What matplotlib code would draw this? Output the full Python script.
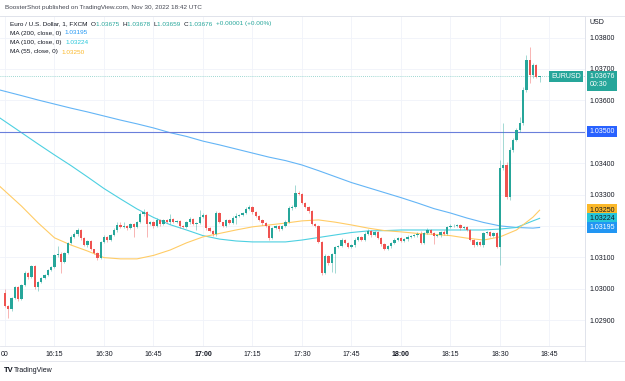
import numpy as np
import matplotlib
matplotlib.use("Agg")
import matplotlib.pyplot as plt
from matplotlib.lines import Line2D
from matplotlib.transforms import blended_transform_factory

plt.rcParams['font.family'] = ['Liberation Sans', 'DejaVu Sans']

# ---- data (1-minute EURUSD candles from 16:00, minute index 0..162) ----
first_open = 1.02986
closes = [
    1.02945, 1.02935, 1.02970, 1.03005, 1.02967, 1.03012, 1.03050, 1.03037, 1.03072, 1.03005,
    1.03021, 1.03034, 1.03044, 1.03060, 1.03069, 1.03107, 1.03110, 1.03085, 1.03114, 1.03146,
    1.03165, 1.03174, 1.03187, 1.03162, 1.03139, 1.03152, 1.03126, 1.03114, 1.03098, 1.03149,
    1.03165, 1.03155, 1.03171, 1.03187, 1.03203, 1.03197, 1.03200, 1.03193, 1.03206, 1.03197,
    1.03212, 1.03238, 1.03244, 1.03206, 1.03212, 1.03200, 1.03219, 1.03206, 1.03219, 1.03212,
    1.03222, 1.03212, 1.03216, 1.03200, 1.03197, 1.03212, 1.03222, 1.03206, 1.03209, 1.03228,
    1.03235, 1.03193, 1.03184, 1.03174, 1.03241, 1.03212, 1.03200, 1.03219, 1.03209, 1.03225,
    1.03232, 1.03235, 1.03241, 1.03254, 1.03260, 1.03244, 1.03232, 1.03219, 1.03209, 1.03200,
    1.03162, 1.03193, 1.03200, 1.03190, 1.03200, 1.03212, 1.03257, 1.03260, 1.03305, 1.03302,
    1.03273, 1.03260, 1.03247, 1.03206, 1.03200, 1.03149, 1.03050, 1.03104, 1.03082, 1.03110,
    1.03133, 1.03136, 1.03155, 1.03146, 1.03133, 1.03139, 1.03155, 1.03165, 1.03155, 1.03174,
    1.03184, 1.03171, 1.03181, 1.03162, 1.03142, 1.03126, 1.03136, 1.03146, 1.03155, 1.03162,
    1.03152, 1.03158, 1.03165, 1.03168, 1.03171, 1.03174, 1.03146, 1.03177, 1.03187, 1.03177,
    1.03168, 1.03171, 1.03181, 1.03174, 1.03197, 1.03200, 1.03201, 1.03203, 1.03193, 1.03197,
    1.03187, 1.03155, 1.03139, 1.03149, 1.03139, 1.03177, 1.03181, 1.03168, 1.03177, 1.03133,
    1.03384, 1.03394, 1.03292, 1.03442, 1.03474, 1.03505, 1.03528, 1.03633, 1.03728, 1.03681,
    1.03712, 1.03675, 1.03676,
]
# wick lengths beyond the body, in 0.00001 units
upper_wick = [
    13, 3, 4, 5, 3, 4, 6, 3, 5, 3,
    3, 4, 2, 4, 3, 5, 26, 6, 3, 4,
    5, 8, 6, 3, 2, 4, 3, 2, 3, 4,
    5, 3, 4, 6, 8, 9, 12, 4, 3, 3,
    5, 6, 10, 3, 4, 3, 6, 3, 4, 2,
    16, 3, 4, 2, 3, 4, 5, 3, 2, 23,
    6, 3, 2, 3, 5, 3, 2, 4, 3, 5,
    10, 4, 3, 5, 7, 3, 2, 3, 2, 3,
    4, 5, 3, 2, 4, 6, 5, 8, 25, 6,
    4, 3, 2, 3, 4, 3, 2, 6, 3, 5,
    4, 3, 5, 2, 3, 4, 5, 4, 2, 5,
    6, 3, 4, 2, 3, 2, 3, 4, 5, 4,
    3, 4, 5, 3, 4, 5, 9, 5, 6, 4,
    3, 4, 3, 5, 4, 6, 5, 4, 3, 4,
    3, 2, 3, 4, 3, 5, 4, 3, 4, 3,
    26, 134, 8, 10, 6, 8, 19, 10, 16, 42,
    8, 4, 2,
]
lower_wick = [
    4, 28, 6, 3, 5, 4, 3, 5, 4, 6,
    12, 4, 3, 5, 3, 4, 5, 35, 4, 3,
    4, 3, 5, 6, 4, 5, 3, 4, 6, 4,
    3, 5, 4, 3, 5, 4, 3, 5, 4, 32,
    4, 3, 5, 40, 4, 6, 3, 5, 4, 3,
    5, 4, 3, 6, 4, 3, 5, 4, 19, 3,
    4, 5, 3, 6, 5, 4, 3, 5, 4, 3,
    20, 3, 4, 3, 4, 5, 3, 4, 5, 4,
    6, 4, 3, 5, 4, 3, 4, 5, 3, 4,
    3, 4, 5, 4, 3, 4, 5, 4, 6, 29,
    60, 4, 3, 5, 4, 3, 5, 4, 3, 4,
    3, 5, 4, 3, 6, 4, 3, 5, 4, 3,
    4, 3, 5, 4, 3, 5, 4, 3, 4, 3,
    25, 4, 5, 3, 4, 3, 4, 3, 5, 4,
    3, 4, 5, 3, 4, 5, 3, 4, 3, 3,
    58, 6, 5, 8, 6, 4, 5, 6, 5, 26,
    10, 4, 16,
]

ma_minutes = [-2, 5, 10, 15, 20, 25, 30, 35, 40, 45, 50, 55, 60, 65, 70, 75, 80,
              85, 90, 95, 100, 105, 110, 115, 120, 125, 130, 135, 140, 145, 150,
              155, 160, 162]
ma200 = [1.03634, 1.03615, 1.03601, 1.03588, 1.03575, 1.03563, 1.03550, 1.03537,
         1.03525, 1.03512, 1.03497, 1.03485, 1.03470, 1.03458, 1.03445, 1.03432,
         1.03419, 1.03408, 1.03394, 1.03376, 1.03357, 1.03338, 1.03322, 1.03306,
         1.03290, 1.03273, 1.03255, 1.03241, 1.03225, 1.03211, 1.03200, 1.03195,
         1.03193, 1.03195]
ma100 = [1.03547, 1.03497, 1.03461, 1.03426, 1.03392, 1.03356, 1.03319, 1.03286,
         1.03254, 1.03227, 1.03204, 1.03187, 1.03169, 1.03158, 1.03152, 1.03149,
         1.03149, 1.03149, 1.03155, 1.03163, 1.03171, 1.03179, 1.03184, 1.03185,
         1.03187, 1.03187, 1.03187, 1.03187, 1.03187, 1.03187, 1.03190, 1.03195,
         1.03216, 1.03224]
ma55 = [1.03330, 1.03263, 1.03210, 1.03162, 1.03139, 1.03120, 1.03099, 1.03095,
        1.03095, 1.03106, 1.03123, 1.03146, 1.03165, 1.03176, 1.03187, 1.03197,
        1.03203, 1.03209, 1.03216, 1.03219, 1.03212, 1.03203, 1.03193, 1.03185,
        1.03181, 1.03176, 1.03173, 1.03169, 1.03161, 1.03155, 1.03165, 1.03187,
        1.03228, 1.03250]

time_ticks = [0, 15, 30, 45, 60, 75, 90, 105, 120, 135, 150, 165]
time_labels = ["00", "16:15", "16:30", "16:45", "17:00", "17:15", "17:30",
               "17:45", "18:00", "18:15", "18:30", "18:45"]
price_ticks = [1.029, 1.030, 1.031, 1.032, 1.033, 1.034, 1.035, 1.036, 1.037, 1.038]
level_price = 1.035
last_price = 1.03676
ohlc_parts = [("Euro / U.S. Dollar, 1, FXCM  ", "text"), ("O", "text"), ("1.03675  ", "val"),
              ("H", "text"), ("1.03678  ", "val"), ("L", "text"), ("1.03659  ", "val"),
              ("C", "text"), ("1.03676  ", "val"), ("+0.00001 (+0.00%)", "val")]

UP = '#26a69a'
DOWN = '#ef5350'
TXT = '#131722'
GRID = '#f0f3fa'
BORDER = '#e0e3eb'
HEAD_FS = 4.6

W, H = 625, 381


def px(x, y):
    return x / W, 1 - y / H


fig = plt.figure(figsize=(W / 100, H / 100), dpi=100)
fig.patch.set_facecolor('white')
ax = fig.add_axes([0, 1 - 346 / H, 585 / W, 330 / H])

# candles
closes_arr = np.array(closes)
opens = np.concatenate([[first_open], closes_arr[:-1]])
minutes = np.arange(len(closes_arr))
highs = np.maximum(opens, closes_arr) + np.array(upper_wick) * 1e-5
lows = np.minimum(opens, closes_arr) - np.array(lower_wick) * 1e-5
colors = np.where(closes_arr >= opens, UP, DOWN)

ax.vlines(minutes, lows, highs, colors=colors, lw=0.6, alpha=0.5, zorder=3)
body = np.maximum(np.abs(closes_arr - opens), 0.000012)
ax.bar(minutes, body, bottom=np.minimum(opens, closes_arr), width=0.72,
       color=colors, lw=0, zorder=4)

# moving averages
ax.plot(ma_minutes, ma200, color='#64b5f6', lw=0.8, zorder=2)
ax.plot(ma_minutes, ma100, color='#4dd0e1', lw=0.8, zorder=2)
ax.plot(ma_minutes, ma55, color='#ffcc66', lw=0.8, zorder=2)

# horizontal level and last price line
ax.axhline(level_price, color='#6a7fdb', lw=0.8, zorder=2)
ax.axhline(last_price, color=UP, lw=0.6, ls=(0, (1, 1.5)), alpha=0.6, zorder=2)

ax.set_xlim(-1.515, 175.76)
ax.set_ylim(1.028175, 1.038685)

ax.set_xticks(time_ticks)
ax.set_xticklabels(time_labels)
for lab in ax.get_xticklabels():
    if lab.get_text() in ("17:00", "18:00"):
        lab.set_fontweight('bold')
ax.set_yticks(price_ticks)
ax.set_yticklabels([f"{p:.5f}" for p in price_ticks])
ax.yaxis.tick_right()
ax.tick_params(axis='both', length=0, labelsize=5, labelcolor=TXT)
ax.tick_params(axis='y', pad=3)
ax.tick_params(axis='x', pad=3.5)
ax.grid(color=GRID, lw=0.6, zorder=0)
ax.set_axisbelow(True)
ax.spines['left'].set_visible(False)
for side in ('top', 'right', 'bottom'):
    ax.spines[side].set_color(BORDER)
    ax.spines[side].set_linewidth(0.6)

# extra frame lines
fig.add_artist(Line2D([0, 1], [1 - 361 / H] * 2, color=BORDER, lw=0.6))
fig.add_artist(Line2D([0, 1], [1 - 16 / H] * 2, color=BORDER, lw=0.6))
fig.add_artist(Line2D([585 / W] * 2, [1 - 361 / H, 1 - 16 / H], color=BORDER, lw=0.6))

# price tags on the right axis
trans = blended_transform_factory(ax.transAxes, ax.transData)


def price_tag(y, text, fc, tc, dy=0):
    ax.annotate(text, xy=(1, y), xycoords=trans, xytext=(3.2, dy),
                textcoords='offset points', ha='left', va='center', fontsize=5,
                color=tc, linespacing=1.35,
                bbox=dict(boxstyle='square,pad=0.32', fc=fc, ec='none'),
                annotation_clip=False, zorder=10)


price_tag(level_price, "1.03500", '#2962ff', 'white')
price_tag(ma55[-1], f"{ma55[-1]:.5f}", '#fbb829', TXT)
price_tag(ma100[-1], f"{ma100[-1]:.5f}", '#26c6da', TXT)
price_tag(ma200[-1], f"{ma200[-1]:.5f}", '#2196f3', 'white')
price_tag(last_price, f"{last_price:.5f}\n00:30", UP, 'white', dy=-3)
ax.annotate("EURUSD", xy=(1, last_price), xycoords=trans, xytext=(-3, 0),
            textcoords='offset points', ha='right', va='center', fontsize=5,
            color='white', bbox=dict(boxstyle='square,pad=0.32', fc=UP, ec='none'),
            annotation_clip=False, zorder=10)

# header texts
renderer = fig.canvas.get_renderer()
fig.text(*px(5, 7.5), "BoosterShot published on TradingView.com, Nov 30, 2022 18:42 UTC",
         fontsize=HEAD_FS, color='#434651', va='center')

x_cur = 10
for part, kind in ohlc_parts:
    t = fig.text(*px(x_cur, 24), part, fontsize=HEAD_FS, va='center',
                 color=UP if kind == "val" else TXT)
    x_cur += t.get_window_extent(renderer).width

for y0, name, val, col in [(33, "MA (200, close, 0)  ", ma200[-1], '#2196f3'),
                           (42.5, "MA (100, close, 0)  ", ma100[-1], '#26c6da'),
                           (52, "MA (55, close, 0)  ", ma55[-1], '#fbb829')]:
    t = fig.text(*px(10, y0), name, fontsize=HEAD_FS, color=TXT, va='center')
    x_val = 10 + t.get_window_extent(renderer).width
    fig.text(*px(x_val, y0), f"{val:.5f}", fontsize=HEAD_FS, color=col, va='center')

fig.text(*px(590, 22), "USD", fontsize=5, color=TXT, va='center')

# footer logo
fig.text(*px(4, 371), "TV", fontsize=5.5, color=TXT, va='center', fontweight='bold')
fig.text(*px(14, 371), "TradingView", fontsize=5, color=TXT, va='center')

fig.savefig("out.png", dpi=100)
